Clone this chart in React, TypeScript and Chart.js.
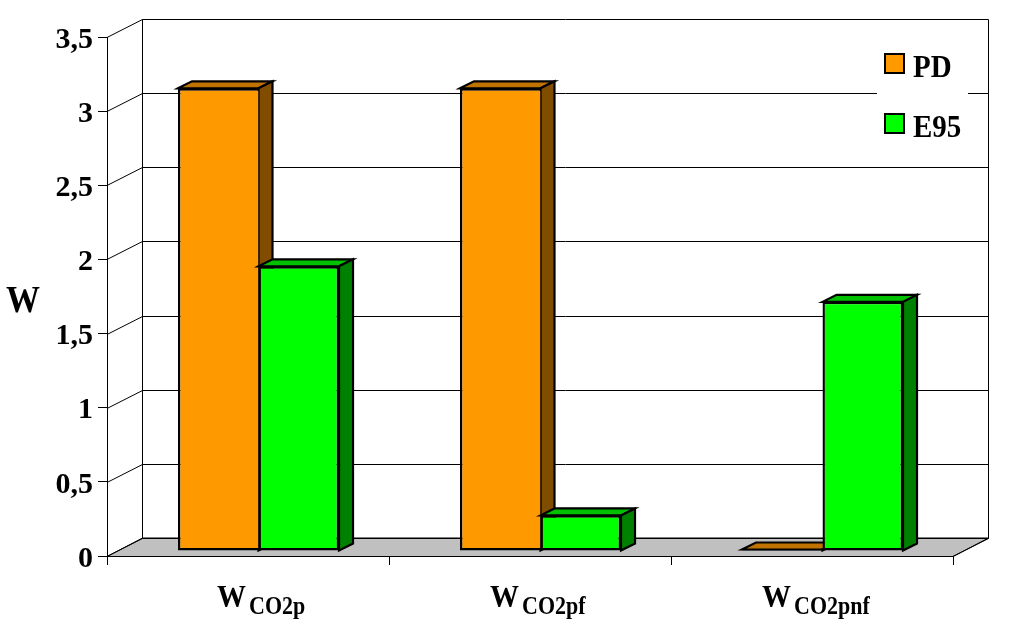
import React, { useEffect, useRef } from "react";
import { Chart, registerables } from "chart.js";

Chart.register(...registerables);

const categories = ["WCO2p", "WCO2pf", "WCO2pnf"];
const categoryMain = ["W", "W", "W"];
const categorySub = ["CO2p", "CO2pf", "CO2pnf"];
const seriesNames = ["PD", "E95"];
const pdValues = [3.12, 3.12, 0.01];
const e95Values = [1.92, 0.24, 1.68];
const axisTitle = "W";

const FONT = '"Liberation Serif"';
const frontColors = ["#ff9900", "#00ff00"];
const sideColors = ["#804d00", "#008000"];
const topColors = ["#c07300", "#00c000"];
const WALL = { dx: 35.5, dy: -18 };
const BAR_SHIFT = { dx: 10.5, dy: -5 };
const BAR_DEPTH = { dx: 14, dy: -7 };
const labelLeftOffsets = [31, 40, 50];
const STRETCH = 1.12;

function poly(ctx: CanvasRenderingContext2D, pts: number[][], fill: string | null, lw = 1) {
  ctx.beginPath();
  pts.forEach((p, i) => (i ? ctx.lineTo(p[0], p[1]) : ctx.moveTo(p[0], p[1])));
  ctx.closePath();
  if (fill) {
    ctx.fillStyle = fill;
    ctx.fill();
  }
  ctx.lineWidth = lw;
  ctx.strokeStyle = "#000";
  ctx.lineJoin = "miter";
  ctx.stroke();
}

function tallText(ctx: CanvasRenderingContext2D, s: string, x: number, y: number) {
  ctx.save();
  ctx.translate(x, y);
  ctx.scale(1, STRETCH);
  ctx.fillText(s, 0, 0);
  ctx.restore();
}

const scene3d = {
  id: "scene3d",
  beforeDatasetsDraw(chart: any) {
    const { ctx, chartArea: a, scales } = chart;
    const y = scales.y;
    ctx.save();
    const y0 = y.getPixelForValue(0);
    poly(
      ctx,
      [
        [a.left, y0 + 0.5],
        [a.left + WALL.dx, y0 + WALL.dy],
        [a.right + WALL.dx, y0 + WALL.dy],
        [a.right, y0 + 0.5],
      ],
      "#c0c0c0"
    );
    ctx.strokeStyle = "#000";
    ctx.lineWidth = 1;
    ctx.beginPath();
    y.ticks.forEach((t: any) => {
      const py = Math.round(y.getPixelForValue(t.value)) + 0.5;
      const by = py + WALL.dy;
      ctx.moveTo(a.left, py);
      ctx.lineTo(a.left + WALL.dx, by);
      ctx.lineTo(a.right + WALL.dx, by);
    });
    const top = Math.round(y.top) + 0.5 + WALL.dy;
    const bottom = Math.round(y0) + 0.5 + WALL.dy;
    ctx.moveTo(a.left + WALL.dx, top);
    ctx.lineTo(a.left + WALL.dx, bottom);
    ctx.moveTo(a.right + WALL.dx, top);
    ctx.lineTo(a.right + WALL.dx, bottom);
    ctx.moveTo(a.right, y0 + 0.5);
    ctx.lineTo(a.right + WALL.dx, bottom);
    ctx.stroke();

    ctx.translate(BAR_SHIFT.dx, BAR_SHIFT.dy);
    chart.data.datasets.forEach((_: any, di: number) => {
      const meta = chart.getDatasetMeta(di);
      meta.data.forEach((bar: any) => {
        const { x, y: by, base, width } = bar.getProps(["x", "y", "base", "width"], true);
        const l = x - width / 2;
        const r = x + width / 2;
        const d = BAR_DEPTH;
        poly(ctx, [[l, by], [l + d.dx, by + d.dy], [r + d.dx, by + d.dy], [r, by]], topColors[di], 2.2);
        poly(ctx, [[r, by], [r + d.dx, by + d.dy], [r + d.dx, base + d.dy], [r, base]], sideColors[di], 2.2);
      });
      meta.controller.draw();
    });
    ctx.restore();
    return false;
  },
  afterDraw(chart: any) {
    const { ctx, scales } = chart;
    const x = scales.x;
    ctx.save();
    ctx.textBaseline = "alphabetic";
    ctx.textAlign = "left";

    ctx.fillStyle = "#fff";
    ctx.fillRect(877, 46, 91, 96);
    seriesNames.forEach((name, i) => {
      const top = 54 + i * 60;
      ctx.fillStyle = frontColors[i];
      ctx.fillRect(885, top, 19, 19);
      ctx.strokeStyle = "#000";
      ctx.lineWidth = 2;
      ctx.strokeRect(885, top, 19, 19);
      ctx.fillStyle = "#000";
      ctx.font = `bold 29px ${FONT}`;
      tallText(ctx, name, 913, top + 22.5);
    });

    ctx.fillStyle = "#000";
    categories.forEach((_, i) => {
      const cx = x.getPixelForValue(i);
      const left = cx - labelLeftOffsets[i];
      ctx.font = `bold 29px ${FONT}`;
      tallText(ctx, categoryMain[i], left, 607);
      const w = ctx.measureText(categoryMain[i]).width;
      ctx.font = `bold 22px ${FONT}`;
      tallText(ctx, categorySub[i], left + w + 3, 614);
    });

    ctx.font = `bold 34px ${FONT}`;
    tallText(ctx, axisTitle, 6, 312);
    ctx.restore();
  },
};

export default function App() {
  const ref = useRef<HTMLCanvasElement>(null);
  useEffect(() => {
    if (!ref.current) return;
    const chart = new Chart(ref.current, {
      type: "bar",
      data: {
        labels: categories,
        datasets: [pdValues, e95Values].map((values, i) => ({
          label: seriesNames[i],
          data: values,
          backgroundColor: frontColors[i],
          borderColor: "#000",
          borderWidth: 2.4,
          borderSkipped: i === 0 ? "right" : false,
          categoryPercentage: 0.571,
          barPercentage: 1,
        })),
      } as any,
      plugins: [scene3d as any],
      options: {
        responsive: false,
        animation: false,
        devicePixelRatio: 1,
        layout: { padding: { top: 37, right: 57, left: 0, bottom: 0 } },
        plugins: { legend: { display: false }, tooltip: { enabled: false }, title: { display: false } },
        scales: {
          x: {
            afterFit: (s: any) => {
              s.height = 72;
            },
            grid: { drawOnChartArea: false, color: "#000", tickLength: 9, lineWidth: 1 },
            border: { color: "#000", width: 1 },
            ticks: { display: false },
          },
          y: {
            min: 0,
            max: 3.5,
            afterFit: (s: any) => {
              s.width = 107;
            },
            grid: { drawOnChartArea: false, color: "#000", tickLength: 9, lineWidth: 1 },
            border: { color: "#000", width: 1 },
            ticks: {
              stepSize: 0.5,
              color: "#000",
              padding: 5,
              labelOffset: 3,
              font: { family: FONT, size: 30, weight: "bold" },
              callback: (v: any) => String(v).replace(".", ","),
            },
          },
        },
      } as any,
    });
    return () => chart.destroy();
  }, []);
  return (
    <canvas
      ref={ref}
      width={1010}
      height={628}
      style={{ position: "absolute", left: 0, top: 0, display: "block" }}
    />
  );
}
